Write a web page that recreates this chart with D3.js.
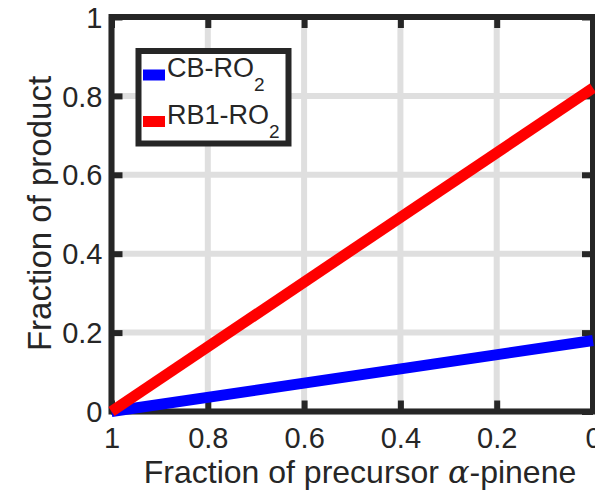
<!DOCTYPE html>
<html>
<head>
<meta charset="utf-8">
<script src="https://cdn.jsdelivr.net/npm/d3@7"></script>
<style>
  html, body { margin: 0; padding: 0; background: #fff; }
  svg { display: block; }
  text { font-family: "Liberation Sans", Arial, Helvetica, sans-serif; fill: #262626; }
</style>
</head>
<body>
<svg id="chart" width="595" height="493"></svg>
<script>
// ---- data ----
const xValues = [1, 0];                 // fraction of precursor alpha-pinene
const cbValues = [0, 0.18];             // CB-RO2 fraction of product
const rb1Values = [0, 0.82];            // RB1-RO2 fraction of product
const seriesNames = ["CB-RO", "RB1-RO"]; // subscript "2" appended
const xTicks = [1, 0.8, 0.6, 0.4, 0.2, 0];
const xTickLabels = ["1", "0.8", "0.6", "0.4", "0.2", "0"];
const yTicks = [0, 0.2, 0.4, 0.6, 0.8, 1];
const yTickLabels = ["0", "0.2", "0.4", "0.6", "0.8", "1"];

const svg = d3.select("#chart");
const L = 111.5, R = 593, T = 17, B = 411.5;
const x = d3.scaleLinear().domain([1, 0]).range([L, R]);
const y = d3.scaleLinear().domain([0, 1]).range([B, T]);
const dark = "#262626";

// grid
const grid = svg.append("g");
grid.selectAll("line.gx").data(xTicks).join("line")
  .attr("x1", d => x(d)).attr("x2", d => x(d)).attr("y1", T).attr("y2", B)
  .attr("stroke", "#dfdfdf").attr("stroke-width", 6);
grid.selectAll("line.gy").data(yTicks).join("line")
  .attr("y1", d => y(d)).attr("y2", d => y(d)).attr("x1", L).attr("x2", R)
  .attr("stroke", "#dfdfdf").attr("stroke-width", 6);

// axes (inward ticks on all four sides)
function styleAxis(g) {
  g.select(".domain").remove();
  g.selectAll(".tick line").attr("stroke", dark).attr("stroke-width", 6);
  g.selectAll("text").style("font-size", "29px").attr("fill", dark);
}
const xb = svg.append("g").attr("transform", `translate(0,${B})`)
  .call(d3.axisBottom(x).tickValues(xTicks).tickFormat((d, i) => xTickLabels[i]).tickSize(-11).tickPadding(0))
  .call(styleAxis);
xb.selectAll("text").attr("y", 36).attr("dy", 0);
const xt = svg.append("g").attr("transform", `translate(0,${T})`)
  .call(d3.axisTop(x).tickValues(xTicks).tickFormat("").tickSize(-11))
  .call(styleAxis);
const yl = svg.append("g").attr("transform", `translate(${L},0)`)
  .call(d3.axisLeft(y).tickValues(yTicks).tickFormat((d, i) => yTickLabels[i]).tickSize(-11).tickPadding(0))
  .call(styleAxis);
yl.selectAll("text").attr("x", -9).attr("dy", "0.35em").attr("text-anchor", "end");
const yr = svg.append("g").attr("transform", `translate(${R},0)`)
  .call(d3.axisRight(y).tickValues(yTicks).tickFormat("").tickSize(-11))
  .call(styleAxis);

// box
svg.append("rect").attr("x", L).attr("y", T).attr("width", R - L).attr("height", B - T)
  .attr("fill", "none").attr("stroke", dark).attr("stroke-width", 6);

// lines
const line = d3.line().x(d => x(d[0])).y(d => y(d[1]));
const series = [
  { name: seriesNames[0], color: "#0000ff", vals: cbValues },
  { name: seriesNames[1], color: "#ff0000", vals: rb1Values }
];
series.forEach(s => {
  svg.append("path").datum(xValues.map((xv, i) => [xv, s.vals[i]]))
    .attr("d", line).attr("fill", "none").attr("stroke", s.color)
    .attr("stroke-width", 11).attr("stroke-linecap", "butt");
});

// legend
const lg = svg.append("g");
lg.append("rect").attr("x", 138.5).attr("y", 51).attr("width", 150).attr("height", 92.5)
  .attr("fill", "#fff").attr("stroke", dark).attr("stroke-width", 6);
const rowY = [75, 121.5];
series.forEach((s, i) => {
  lg.append("line").attr("x1", 143).attr("x2", 165).attr("y1", rowY[i]).attr("y2", rowY[i])
    .attr("stroke", s.color).attr("stroke-width", 11);
  const t = lg.append("text").attr("x", 167).attr("y", rowY[i] + 2).style("font-size", "27px");
  t.append("tspan").text(s.name);
  t.append("tspan").attr("dy", 14).style("font-size", "19px").text("2");
});

// axis labels
const xlab = svg.append("text").attr("x", 360).attr("y", 483).attr("text-anchor", "middle")
  .style("font-size", "32px");
xlab.append("tspan").text("Fraction of precursor ");
xlab.append("tspan").style("font-family", "'DejaVu Serif', 'Liberation Serif', serif")
  .style("font-style", "italic").text("α");
xlab.append("tspan").text("-pinene");

svg.append("text").attr("transform", "translate(51,213.5) rotate(-90)")
  .attr("text-anchor", "middle").style("font-size", "33px").text("Fraction of product");
</script>
</body>
</html>
